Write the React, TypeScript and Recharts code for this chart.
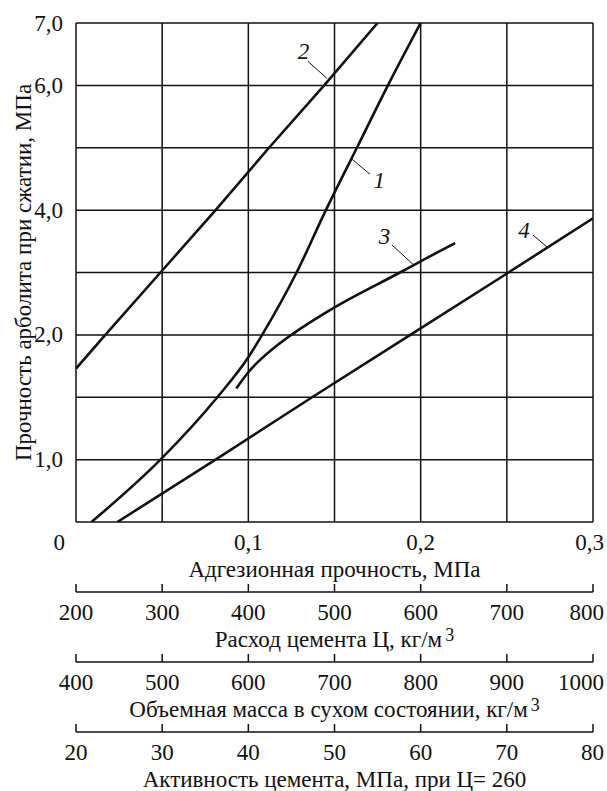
import React from 'react';
import {
  ComposedChart,
  Line,
  XAxis,
  YAxis,
  CartesianGrid,
  Label,
  ReferenceLine,
  ReferenceDot,
} from 'recharts';

const FONT = "'Liberation Serif'";
const INK = '#111';
const TXT = { fontFamily: FONT, fontSize: 23, fill: INK };

// the strength axis is stepped: one grid row per value below, not linear in MPa
const GRID_MPA = [0.5, 1, 1.5, 2, 3, 4, 5, 6, 7];
const LABELED_MPA = [1, 2, 4, 6, 7];

const ADH_TICKS = [0, 0.05, 0.1, 0.15, 0.2, 0.25, 0.3];
const ADH_LABELED = [0, 0.1, 0.2, 0.3];
const CEMENT_TICKS = [200, 300, 400, 500, 600, 700, 800];
const MASS_TICKS = [400, 500, 600, 700, 800, 900, 1000];
const ACTIVITY_TICKS = [20, 30, 40, 50, 60, 70, 80];

// curve 1
const ADH_1 = [0.009, 0.049, 0.082, 0.1, 0.108, 0.128, 0.145, 0.163, 0.181, 0.2];
const STR_1 = [0.5, 1.0, 1.5, 1.82, 2.0, 3.0, 4.0, 5.0, 6.0, 7.0];
// curve 2
const ADH_2 = [0, 0.017, 0.049, 0.081, 0.112, 0.144, 0.175];
const STR_2 = [1.73, 2.0, 3.0, 4.0, 5.0, 6.0, 7.0];
// curve 3
const ADH_3 = [0.093, 0.1, 0.118, 0.125, 0.15, 0.188, 0.2, 0.22];
const STR_3 = [1.57, 1.7, 1.93, 2.0, 2.44, 3.0, 3.18, 3.47];
// curve 4
const ADH_4 = [0.024, 0.081, 0.137, 0.194, 0.251, 0.3];
const STR_4 = [0.5, 1.0, 1.5, 2.0, 3.0, 3.87];

// curve numbers and their leader lines
const TAGS = ['1', '2', '3', '4'];
const TAG_ADH = [0.176, 0.132, 0.179, 0.26];
const TAG_STR = [4.48, 6.55, 3.58, 3.68];
const LEAD_FROM_ADH = [0.1706, 0.1346, 0.1834, 0.2652];
const LEAD_FROM_STR = [4.575, 6.385, 3.44, 3.6];
const LEAD_TO_ADH = [0.1602, 0.1457, 0.1956, 0.2733];
const LEAD_TO_STR = [4.815, 6.11, 3.13, 3.41];

// MPa -> grid row position
function toGrid(v: number) {
  for (let i = 0; i < GRID_MPA.length - 1; i++) {
    if (v <= GRID_MPA[i + 1]) return i + (v - GRID_MPA[i]) / (GRID_MPA[i + 1] - GRID_MPA[i]);
  }
  return GRID_MPA.length - 1;
}

const series = (xs: number[], ys: number[]) => xs.map((x, i) => ({ x, y: toGrid(ys[i]) }));
const comma = (v: number, d: number) => v.toFixed(d).replace('.', ',');

function makeTick(format: (v: number) => string, first: number, last: number, withLine: boolean) {
  return (props: any) => {
    const { x, y, payload } = props;
    const v = payload.value;
    let anchor: 'middle' | 'end' = 'middle';
    let tx = x;
    if (v === first && !withLine) {
      anchor = 'end';
      tx = x - 11;
    }
    if (v === last) {
      anchor = 'end';
      tx = x + 11;
    }
    return (
      <g>
        {withLine && <line x1={x} x2={x} y1={y - 8} y2={y} stroke={INK} strokeWidth={1.5} />}
        <text x={tx} y={y + 27.5} textAnchor={anchor} style={TXT}>
          {format(v)}
        </text>
      </g>
    );
  };
}

const yTick = (props: any) => {
  const { x, y, payload } = props;
  const mpa = GRID_MPA[payload.value];
  return (
    <text x={x - 13} y={y + 7.5} textAnchor="end" style={TXT}>
      {LABELED_MPA.includes(mpa) ? comma(mpa, 1) : ''}
    </text>
  );
};

const axisTitle = (text: string, sup?: string) => (props: any) => {
  const vb = props.viewBox;
  return (
    <text x={vb.x + vb.width / 2} y={vb.y + 54.5} textAnchor="middle" style={TXT}>
      {text}
      {sup && (
        <tspan dx={3} dy={-6} style={{ fontSize: 18 }}>
          {sup}
        </tspan>
      )}
    </text>
  );
};

const yTitle = (props: any) => {
  const vb = props.viewBox;
  const cx = vb.x + 31;
  const cy = vb.y + vb.height / 2;
  return (
    <text x={cx} y={cy} transform={`rotate(-90, ${cx}, ${cy})`} textAnchor="middle" style={TXT}>
      Прочность арболита при сжатии, МПа
    </text>
  );
};

const tagShape = (text: string) => (props: any) => (
  <text x={props.cx} y={props.cy + 8} textAnchor="middle" style={{ ...TXT, fontStyle: 'italic' }}>
    {text}
  </text>
);

const adhFormat = (v: number) => (v === 0 ? '0' : ADH_LABELED.includes(v) ? comma(v, 1) : '');
const plain = (v: number) => String(v);

// extra scales under the chart; each gets an empty carrier series so its ticks exist
const EXTRA = [
  { id: 'a2', ticks: CEMENT_TICKS, title: 'Расход цемента Ц, кг/м', sup: '3', h: 70 },
  { id: 'a3', ticks: MASS_TICKS, title: 'Объемная масса в сухом состоянии, кг/м', sup: '3', h: 70 },
  { id: 'a4', ticks: ACTIVITY_TICKS, title: 'Активность цемента, МПа, при Ц= 260', sup: undefined, h: 59 },
];

export default function App() {
  const curves = [
    { data: series(ADH_1, STR_1), type: 'monotone' as const },
    { data: series(ADH_2, STR_2), type: 'linear' as const },
    { data: series(ADH_3, STR_3), type: 'monotone' as const },
    { data: series(ADH_4, STR_4), type: 'linear' as const },
  ];
  const gridTicks = GRID_MPA.map((_, i) => i);

  return (
    <div style={{ position: 'absolute', left: 0, top: 0, width: 607, height: 791, background: '#fff' }}>
      <ComposedChart width={607} height={791} margin={{ top: 23, right: 14, bottom: 0, left: 0 }}>
        <CartesianGrid xAxisId="a1" yAxisId="s" stroke={INK} strokeWidth={1.5} fill="none" />
        <XAxis
          xAxisId="a1"
          dataKey="x"
          type="number"
          domain={[0, 0.3]}
          ticks={ADH_TICKS}
          interval={0}
          allowDataOverflow
          height={70}
          axisLine={false}
          tickLine={false}
          tickSize={0}
          tickMargin={0}
          tick={makeTick(adhFormat, 0, 0.3, false)}
        >
          <Label content={axisTitle('Адгезионная прочность, МПа')} />
        </XAxis>
        {EXTRA.map((a) => (
          <XAxis
            key={a.id}
            xAxisId={a.id}
            dataKey="x"
            type="number"
            domain={[a.ticks[0], a.ticks[a.ticks.length - 1]]}
            ticks={a.ticks}
            interval={0}
            allowDataOverflow
            height={a.h}
            axisLine={{ stroke: INK, strokeWidth: 1.5 }}
            tickLine={false}
            tickSize={0}
            tickMargin={0}
            tick={makeTick(plain, a.ticks[0], a.ticks[a.ticks.length - 1], true)}
          >
            <Label content={axisTitle(a.title, a.sup)} />
          </XAxis>
        ))}
        <YAxis
          yAxisId="s"
          type="number"
          domain={[0, GRID_MPA.length - 1]}
          ticks={gridTicks}
          interval={0}
          allowDataOverflow
          width={76}
          axisLine={false}
          tickLine={false}
          tickSize={0}
          tickMargin={0}
          tick={yTick}
        >
          <Label content={yTitle} />
        </YAxis>

        {EXTRA.map((a) => (
          <Line
            key={`carrier-${a.id}`}
            xAxisId={a.id}
            yAxisId="s"
            data={a.ticks.map((v) => ({ x: v, y: 0 }))}
            dataKey="y"
            stroke="none"
            strokeWidth={0}
            dot={false}
            activeDot={false}
            legendType="none"
            isAnimationActive={false}
          />
        ))}

        {curves.map((c, i) => (
          <Line
            key={i}
            xAxisId="a1"
            yAxisId="s"
            data={c.data}
            dataKey="y"
            type={c.type}
            stroke={INK}
            strokeWidth={2.6}
            dot={false}
            activeDot={false}
            isAnimationActive={false}
          />
        ))}

        {TAGS.map((t, i) => (
          <ReferenceLine
            key={`lead-${t}`}
            xAxisId="a1"
            yAxisId="s"
            segment={[
              { x: LEAD_FROM_ADH[i], y: toGrid(LEAD_FROM_STR[i]) },
              { x: LEAD_TO_ADH[i], y: toGrid(LEAD_TO_STR[i]) },
            ]}
            stroke={INK}
            strokeWidth={1}
          />
        ))}
        {TAGS.map((t, i) => (
          <ReferenceDot
            key={`tag-${t}`}
            xAxisId="a1"
            yAxisId="s"
            x={TAG_ADH[i]}
            y={toGrid(TAG_STR[i])}
            r={0}
            shape={tagShape(t)}
          />
        ))}
      </ComposedChart>
    </div>
  );
}
